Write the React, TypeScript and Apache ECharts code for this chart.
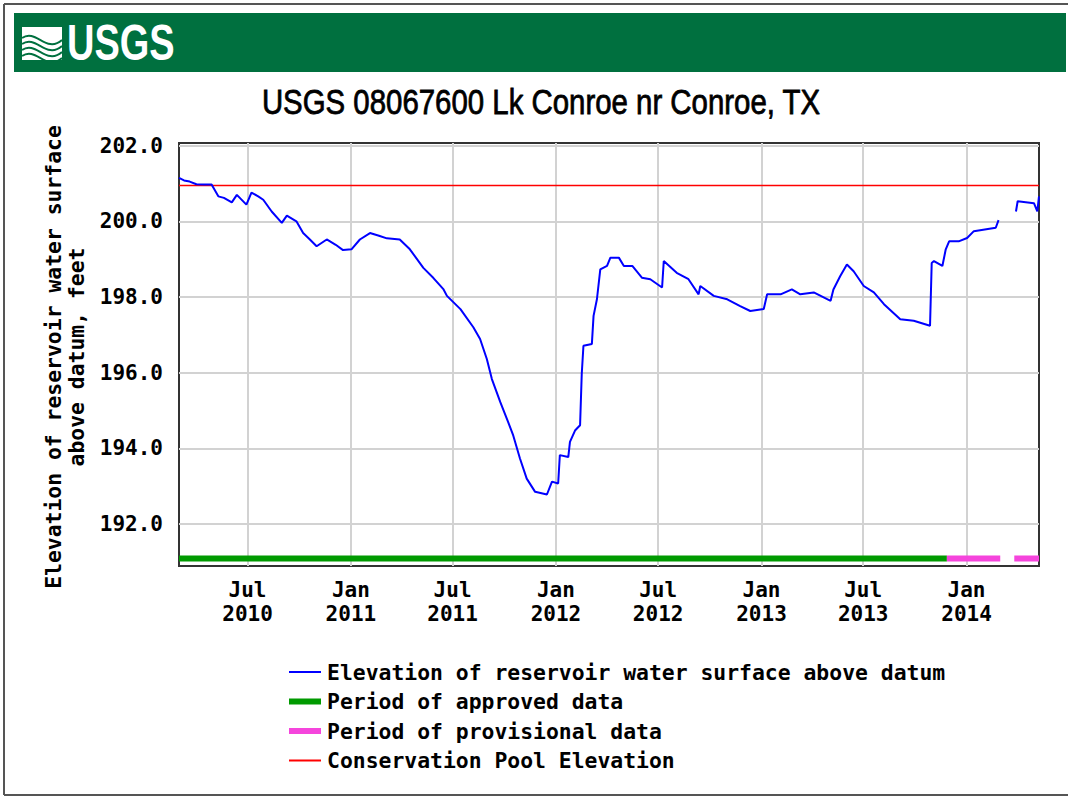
import React, { useEffect, useRef } from 'react';
import * as echarts from 'echarts';

// ---------- data ----------
const TITLE = 'USGS 08067600 Lk Conroe nr Conroe, TX';
const Y_TITLE = 'Elevation of reservoir water surface\nabove datum, feet';

const X_MIN = '2010-03-01';
const X_MAX = '2014-05-10';
const Y_MIN = 190.89;
const Y_MAX = 202.07;

const X_TICK_DATES = ['2010-07-01', '2011-01-01', '2011-07-01', '2012-01-01', '2012-07-01', '2013-01-01', '2013-07-01', '2014-01-01'];
const X_TICK_LABELS = ['Jul\n2010', 'Jan\n2011', 'Jul\n2011', 'Jan\n2012', 'Jul\n2012', 'Jan\n2013', 'Jul\n2013', 'Jan\n2014'];
const Y_TICKS = [192, 194, 196, 198, 200, 202];
const Y_TICK_LABELS = ['192.0', '194.0', '196.0', '198.0', '200.0', '202.0'];

const ELEV_DATES = [
  '2010-03-01', '2010-03-10', '2010-03-20', '2010-04-01', '2010-04-13', '2010-04-28', '2010-05-10', '2010-05-20',
  '2010-06-03', '2010-06-12', '2010-06-29', '2010-07-08', '2010-07-20', '2010-07-29', '2010-08-13', '2010-08-31',
  '2010-09-09', '2010-09-26', '2010-10-08', '2010-10-20', '2010-11-01', '2010-11-19', '2010-12-05', '2010-12-18',
  '2011-01-02', '2011-01-17', '2011-02-04', '2011-02-20', '2011-03-06', '2011-03-29', '2011-04-16', '2011-05-10',
  '2011-05-28', '2011-06-15', '2011-06-21', '2011-07-15', '2011-08-07', '2011-08-19', '2011-08-31', '2011-09-09',
  '2011-09-24', '2011-10-08', '2011-10-17', '2011-10-29', '2011-11-10', '2011-11-25', '2011-12-16', '2011-12-25',
  '2012-01-05', '2012-01-08', '2012-01-23', '2012-01-26', '2012-02-04', '2012-02-13', '2012-02-16', '2012-02-19',
  '2012-03-05', '2012-03-08', '2012-03-14', '2012-03-20', '2012-04-01', '2012-04-07', '2012-04-22', '2012-05-01',
  '2012-05-16', '2012-06-02', '2012-06-17', '2012-07-08', '2012-07-11', '2012-08-03', '2012-08-24', '2012-09-11',
  '2012-09-14', '2012-10-08', '2012-11-01', '2012-11-24', '2012-12-12', '2013-01-05', '2013-01-11', '2013-02-04',
  '2013-02-24', '2013-03-11', '2013-04-04', '2013-05-04', '2013-05-09', '2013-05-21', '2013-06-02', '2013-06-14',
  '2013-07-02', '2013-07-20', '2013-08-07', '2013-09-05', '2013-09-29', '2013-10-28', '2013-10-31', '2013-11-04',
  '2013-11-19', '2013-11-25', '2013-12-01', '2013-12-18', '2014-01-02', '2014-01-14', '2014-02-22', '2014-02-27',
  '2014-03-12',
  '2014-03-30', '2014-04-02', '2014-05-01', '2014-05-07', '2014-05-10',
];
const ELEV_VALUES = [
  201.15, 201.08, 201.05, 200.98, 200.97, 200.97, 200.66, 200.62,
  200.50, 200.70, 200.44, 200.76, 200.66, 200.57, 200.26, 199.96,
  200.15, 200.00, 199.69, 199.52, 199.34, 199.52, 199.38, 199.24,
  199.26, 199.52, 199.69, 199.62, 199.55, 199.52, 199.26, 198.77,
  198.50, 198.20, 198.03, 197.68, 197.20, 196.89, 196.36, 195.83,
  195.22, 194.69, 194.34, 193.73, 193.20, 192.85, 192.78, 193.12,
  193.07, 193.82, 193.77, 194.17, 194.47, 194.61, 195.97, 196.71,
  196.76, 197.50, 197.94, 198.73, 198.82, 199.04, 199.04, 198.82,
  198.82, 198.51, 198.47, 198.25, 198.95, 198.64, 198.47, 198.07,
  198.29, 198.03, 197.94, 197.76, 197.63, 197.68, 198.07, 198.07,
  198.20, 198.07, 198.12, 197.90, 198.20, 198.55, 198.86, 198.68,
  198.29, 198.12, 197.81, 197.41, 197.37, 197.24, 198.90, 198.95,
  198.82, 199.26, 199.47, 199.47, 199.56, 199.74, 199.83, 200.03,
  null,
  200.26, 200.53, 200.48, 200.26, 200.66,
];

const STATUS_LEVEL = 191.09;
const APPROVED_DATES = ['2010-03-01', '2013-11-27'];
const APPROVED_VALUES = [STATUS_LEVEL, STATUS_LEVEL];
const PROVISIONAL_DATES = ['2013-11-27', '2014-03-02', '2014-03-14', '2014-03-27', '2014-05-10'];
const PROVISIONAL_VALUES = [STATUS_LEVEL, STATUS_LEVEL, null, STATUS_LEVEL, STATUS_LEVEL];
const POOL_DATES = ['2010-03-01', '2014-05-10'];
const POOL_VALUES = [200.95, 200.95];

const SERIES_NAMES = [
  'Elevation of reservoir water surface above datum',
  'Period of approved data',
  'Period of provisional data',
  'Conservation Pool Elevation',
];

// ---------- helpers ----------
const toTs = (s: string) => {
  const [y, m, d] = s.split('-').map(Number);
  return new Date(y, m - 1, d).getTime();
};
const pairs = (dates: string[], vals: (number | null)[]) =>
  dates.map((d, i) => [toTs(d), vals[i] === null ? '-' : vals[i]]);

const MONO = "'DejaVu Sans Mono', 'Liberation Mono', monospace";
const X_TICK_TS = X_TICK_DATES.map(toTs);

// legend icons in a 32x14 box (tiny slivers keep the full box as bounds)
const ICON_THIN = 'path://M0,0L32,0L32,0.01L0,0.01Z M0,6L32,6L32,8L0,8Z M0,13.99L32,13.99L32,14L0,14Z';
const ICON_THICK = 'path://M0,0L32,0L32,0.01L0,0.01Z M0,4L32,4L32,10L0,10Z M0,13.99L32,13.99L32,14L0,14Z';
const LEGEND_ICONS = [ICON_THIN, ICON_THICK, ICON_THICK, ICON_THIN];

export default function App() {
  const ref = useRef<HTMLDivElement>(null);

  useEffect(() => {
    if (!ref.current) return;
    const chart = echarts.init(ref.current, undefined, { renderer: 'svg' });

    const waveCurves = [0, 1, 2, 3].map((i) => ({
      type: 'bezierCurve',
      shape: {
        x1: 22, y1: 38 + i * 6,
        x2: 62, y2: 40 + i * 6,
        cpx1: 36, cpy1: 28 + i * 6,
        cpx2: 46, cpy2: 54 + i * 6,
      },
      style: { stroke: '#00703f', lineWidth: 2, fill: null },
      z: 102,
    }));

    const option: any = {
      animation: false,
      backgroundColor: '#ffffff',
      grid: {
        left: 179, top: 143, right: 29, bottom: 230,
        show: true, borderColor: '#333333', borderWidth: 2, backgroundColor: 'transparent',
      },
      xAxis: {
        type: 'value',
        min: toTs(X_MIN),
        max: toTs(X_MAX),
        axisLine: { show: false },
        axisTick: { show: false, customValues: X_TICK_TS },
        splitLine: { show: true, lineStyle: { color: '#d2d2d2', width: 2 } },
        axisLabel: {
          customValues: X_TICK_TS,
          formatter: (v: number) => {
            const i = X_TICK_TS.indexOf(v);
            return i >= 0 ? X_TICK_LABELS[i] : '';
          },
          fontFamily: MONO, fontWeight: 'bold', fontSize: 21, color: '#000',
          lineHeight: 24, margin: 12, hideOverlap: false,
        },
      },
      yAxis: {
        type: 'value',
        min: Y_MIN,
        max: Y_MAX,
        axisLine: { show: false },
        axisTick: { show: false, customValues: Y_TICKS },
        splitLine: { show: true, lineStyle: { color: '#d2d2d2', width: 2 } },
        axisLabel: {
          customValues: Y_TICKS,
          formatter: (v: number) => {
            const i = Y_TICKS.indexOf(Math.round(v * 100) / 100);
            return i >= 0 ? Y_TICK_LABELS[i] : '';
          },
          fontFamily: MONO, fontWeight: 'bold', fontSize: 21, color: '#000', margin: 16,
        },
      },
      legend: {
        orient: 'vertical',
        left: 284,
        top: 656,
        itemWidth: 32,
        itemHeight: 14,
        itemGap: 7.5,
        selectedMode: false,
        itemStyle: { borderWidth: 0 },
        data: SERIES_NAMES.map((name, i) => ({ name, icon: LEGEND_ICONS[i] })),
        textStyle: {
          fontFamily: MONO, fontWeight: 'bold', fontSize: 21.4, color: '#000', lineHeight: 22,
          padding: [0, 0, 0, 1],
        },
      },
      series: [
        {
          name: SERIES_NAMES[0], type: 'line', data: pairs(ELEV_DATES, ELEV_VALUES),
          symbol: 'none', showSymbol: false, connectNulls: false,
          lineStyle: { color: '#0000ff', width: 2 }, itemStyle: { color: '#0000ff' }, z: 5,
        },
        {
          name: SERIES_NAMES[1], type: 'line', data: pairs(APPROVED_DATES, APPROVED_VALUES),
          symbol: 'none', showSymbol: false,
          lineStyle: { color: '#009a00', width: 6 }, itemStyle: { color: '#009a00' }, z: 3,
        },
        {
          name: SERIES_NAMES[2], type: 'line', data: pairs(PROVISIONAL_DATES, PROVISIONAL_VALUES),
          symbol: 'none', showSymbol: false, connectNulls: false,
          lineStyle: { color: '#f545dc', width: 6 }, itemStyle: { color: '#f545dc' }, z: 3,
        },
        {
          name: SERIES_NAMES[3], type: 'line', data: pairs(POOL_DATES, POOL_VALUES),
          symbol: 'none', showSymbol: false,
          lineStyle: { color: '#ff0000', width: 1.5 }, itemStyle: { color: '#ff0000' }, z: 4,
        },
      ],
      graphic: [
        { type: 'line', shape: { x1: 4, y1: 4, x2: 1068, y2: 4 }, style: { stroke: '#555', lineWidth: 2 }, z: 100 },
        { type: 'line', shape: { x1: 4, y1: 4, x2: 4, y2: 795 }, style: { stroke: '#555', lineWidth: 2 }, z: 100 },
        { type: 'line', shape: { x1: 4, y1: 795, x2: 1068, y2: 795 }, style: { stroke: '#555', lineWidth: 2 }, z: 100 },
        { type: 'rect', shape: { x: 14, y: 13, width: 1052, height: 59 }, style: { fill: '#00703f' }, z: 100 },
        { type: 'rect', shape: { x: 22, y: 27, width: 40, height: 33 }, style: { fill: '#ffffff' }, z: 101 },
        ...waveCurves,
        {
          type: 'text', x: 67, y: 68, scaleX: 0.76, z: 103,
          style: {
            text: 'USGS', fill: '#ffffff', font: "bold 50px 'Liberation Sans', Arial, sans-serif",
            textAlign: 'left', textVerticalAlign: 'bottom',
          },
        },
        {
          type: 'text', x: 541, y: 102, scaleX: 0.84, z: 100,
          style: {
            text: TITLE, fill: '#000000', font: "35px 'Liberation Sans', Arial, sans-serif",
            stroke: '#000000', lineWidth: 0.8,
            textAlign: 'center', textVerticalAlign: 'middle',
          },
        },
        {
          type: 'text', x: 64.5, y: 357, rotation: Math.PI / 2, z: 100,
          style: {
            text: Y_TITLE, fill: '#000000', font: `bold 21.4px ${MONO}`, lineHeight: 23,
            textAlign: 'center', textVerticalAlign: 'middle',
          },
        },
      ],
    };

    chart.setOption(option);
    return () => chart.dispose();
  }, []);

  return (
    <div
      ref={ref}
      style={{ position: 'absolute', left: 0, top: 0, width: 1068, height: 796, background: '#fff' }}
    />
  );
}
